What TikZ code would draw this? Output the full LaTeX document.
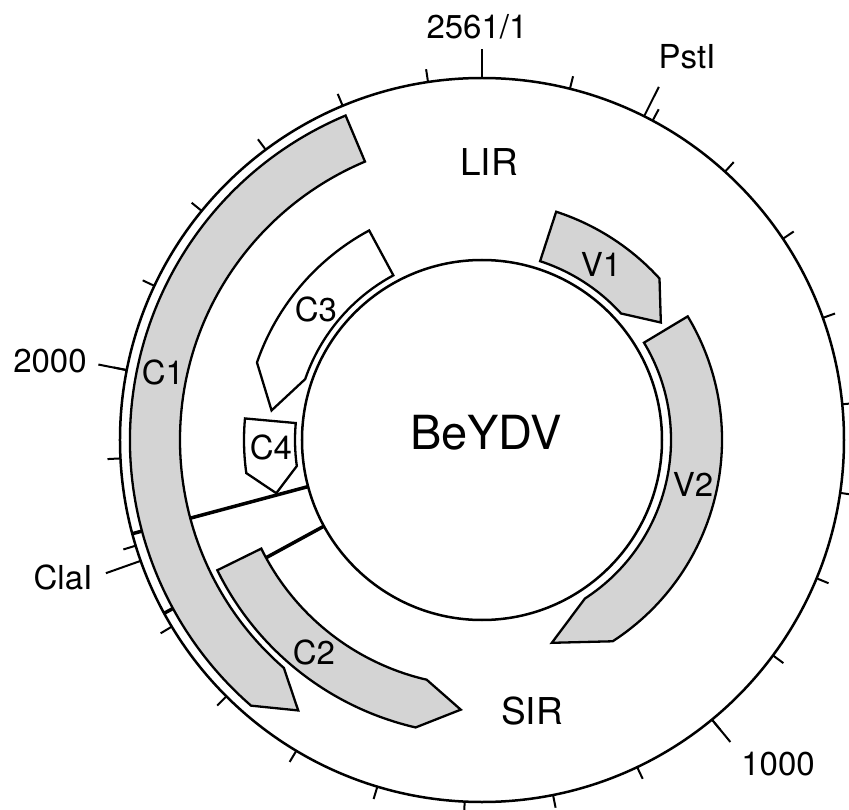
\documentclass[tikz,border=0pt]{standalone}
\usepackage{fontspec}
\setmainfont{TeX Gyre Heros}
\newcommand\genearrow[6]{%
  \pgfmathsetmacro\gsA{90-#2}%
  \pgfmathsetmacro\gsB{90-#3}%
  \pgfmathsetmacro\gsT{90-#4}%
  \pgfmathsetmacro\gsM{(#5+#6)/2}%
  \draw[#1] (\gsA:#5) -- (\gsA:#6) arc[start angle=\gsA, end angle=\gsB, radius=#6]
    -- (\gsT:\gsM) -- (\gsB:#5) arc[start angle=\gsB, end angle=\gsA, radius=#5] -- cycle;}
\begin{document}
\begin{tikzpicture}[x=1pt,y=1pt,
  gene/.style={draw=black, line width=2.3pt, line join=miter, fill=black!17},
  genew/.style={draw=black, line width=2.3pt, line join=miter, fill=white},
  tickmark/.style={line width=2pt},
  conn/.style={line width=3.5pt},
  ring/.style={line width=2.5pt},
  lbl/.style={inner sep=0pt, font=\fontsize{33}{36}\selectfont},
  glbl/.style={inner sep=0pt, font=\fontsize{33}{36}\selectfont},
  big/.style={inner sep=0pt, font=\fontsize{37}{40}\selectfont},
  huge/.style={inner sep=0pt, font=\fontsize{47}{50}\selectfont}]
\useasboundingbox (-482,440) rectangle (367,-369);

% genes
\genearrow{gene}{337.2}{221}{214.2}{302}{352}
\genearrow{gene}{243.8}{193}{184.5}{246}{295}
\genearrow{genew}{331.7}{289}{278}{187}{238}
\genearrow{genew}{275.2}{262}{255.5}{187}{238}
\genearrow{gene}{18}{47.7}{56.7}{188}{240}
\genearrow{gene}{59}{147}{161}{189}{240}

% circles
\draw[ring] (0,0) circle[radius=362];
\draw[ring] (0,0) circle[radius=180];

% marks across the gap between C1 and the outer circle
\coordinate (j1a) at (-165:352); \coordinate (j1b) at (-165:362);
\coordinate (j2a) at (-151.4:352); \coordinate (j2b) at (-151.4:362);
\draw[conn] (j1a) -- (j1b);
\draw[conn] (j2a) -- (j2b);

% connectors
\coordinate (c1a) at (-165:180); \coordinate (c1b) at (-165:302);
\coordinate (c2a) at (-151.4:180); \coordinate (c2b) at (-151.4:246);
\draw[conn] (c1a) -- (c1b);
\draw[conn] (c2a) -- (c2b);

% ticks
\foreach \k in {1,...,25}{
  \pgfmathsetmacro\ta{90-\k*14.05701}
  \draw[tickmark] (\ta:362) -- (\ta:375);
}
\foreach \b in {0,1000,2000}{
  \pgfmathsetmacro\ta{90-\b*0.1405701}
  \draw[tickmark] (\ta:362) -- (\ta:391);
}
\draw[tickmark] (-160.5:362) -- (-160.5:399);
\draw[tickmark] (63.4:362) -- (63.4:395);

% labels
\node[lbl] (l0) at (-5,413) {2561/1};
\node[lbl] (lpst) at (205,383) {PstI};
\node[lbl] (l1000) at (296,-324) {1000};
\node[lbl] (l2000) at (-432,79) {2000};
\node[lbl] (lcla) at (-419,-137) {ClaI};
\node[big] (lir) at (7,278) {LIR};
\node[big] (sir) at (50,-271) {SIR};
\node[huge] (name) at (4,7) {BeYDV};
\node[glbl] (gc1) at (-319,68) {C1};
\node[glbl] (gc2) at (-168,-212) {C2};
\node[glbl] (gc3) at (-166,131) {C3};
\node[glbl] (gc4) at (-211,-7) {C4};
\node[glbl] (gv1) at (119,176) {V1};
\node[glbl] (gv2) at (211,-44) {V2};
\end{tikzpicture}
\end{document}
